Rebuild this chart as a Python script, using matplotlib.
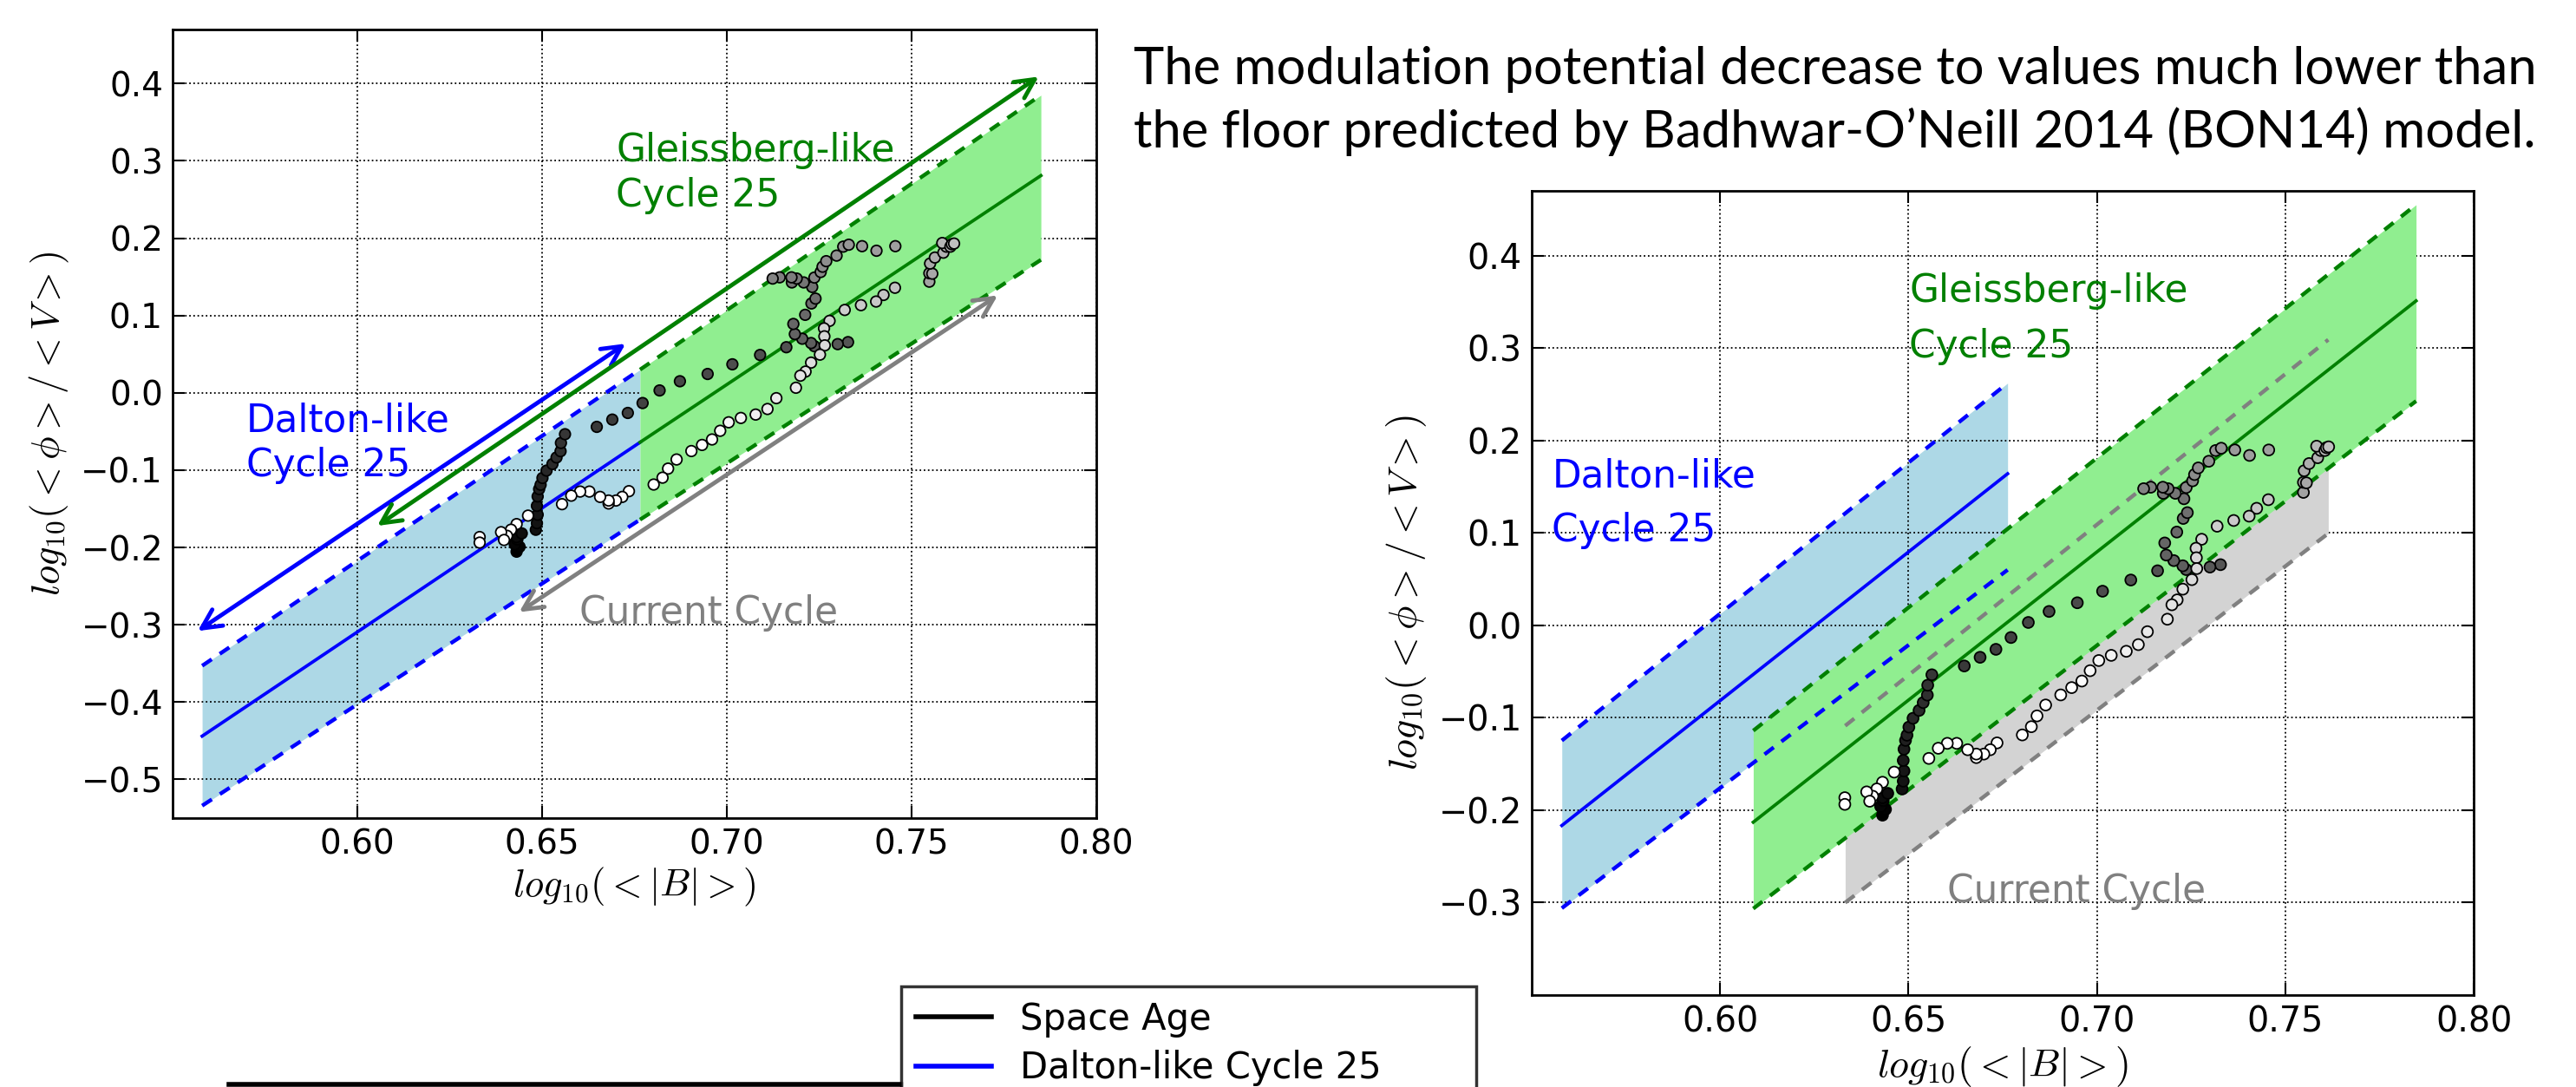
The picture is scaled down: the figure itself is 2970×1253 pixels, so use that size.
import numpy as np
import matplotlib
matplotlib.use("Agg")
import matplotlib.pyplot as plt
from matplotlib.ticker import FuncFormatter
from matplotlib.lines import Line2D

plt.rcParams['mathtext.fontset'] = 'cm'
plt.rcParams['font.family'] = ['DejaVu Sans']

# ---------------- data ----------------
log_B = [0.6431, 0.6439, 0.6426, 0.6433, 0.6431, 0.6445, 0.6483, 0.6486, 0.6488, 0.6486,
         0.6488, 0.6492, 0.6496, 0.6501, 0.6512, 0.6528, 0.6539, 0.6550, 0.6551, 0.6562,
         0.6648, 0.6690, 0.6732, 0.6772, 0.6818, 0.6873, 0.6948, 0.7015, 0.7090, 0.7161,
         0.7328, 0.7300, 0.7237, 0.7228, 0.7204, 0.7184, 0.7180, 0.7212, 0.7229, 0.7240,
         0.7231, 0.7208, 0.7176, 0.7189, 0.7175, 0.7143, 0.7124, 0.7237, 0.7254, 0.7259,
         0.7269, 0.7297, 0.7315, 0.7330, 0.7366, 0.7405, 0.7456, 0.7548, 0.7548, 0.7556,
         0.7550, 0.7563, 0.7586, 0.7594, 0.7583, 0.7605, 0.7609, 0.7615, 0.7455, 0.7424,
         0.7404, 0.7363, 0.7319, 0.7278, 0.7263, 0.7264, 0.7265, 0.7252, 0.7228, 0.7213,
         0.7199, 0.7187, 0.7134, 0.7110, 0.7078, 0.7038, 0.7005, 0.6982, 0.6960, 0.6933,
         0.6904, 0.6864, 0.6841, 0.6826, 0.6802, 0.6735, 0.6717, 0.6700, 0.6680, 0.6680,
         0.6657, 0.6628, 0.6603, 0.6579, 0.6554, 0.6462, 0.6431, 0.6416, 0.6405, 0.6389,
         0.6397, 0.6331, 0.6331]
log_phi_V = [-0.2054, -0.1991, -0.1959, -0.1896, -0.1865, -0.1818, -0.1771, -0.1686, -0.1576, -0.1462,
             -0.1340, -0.1245, -0.1189, -0.1101, -0.1006, -0.0921, -0.0836, -0.0755, -0.0648, -0.0535,
             -0.0440, -0.0346, -0.0260, -0.0132, 0.0031, 0.0150, 0.0244, 0.0369, 0.0490, 0.0590,
             0.0656, 0.0630, 0.0603, 0.0644, 0.0700, 0.0760, 0.0891, 0.1009, 0.1156, 0.1219,
             0.1369, 0.1428, 0.1428, 0.1478, 0.1494, 0.1494, 0.1478, 0.1491, 0.1563, 0.1631,
             0.1703, 0.1775, 0.1891, 0.1916, 0.1897, 0.1838, 0.1897, 0.1438, 0.1547, 0.1541,
             0.1672, 0.1750, 0.1813, 0.1891, 0.1938, 0.1891, 0.1922, 0.1931, 0.1359, 0.1266,
             0.1181, 0.1134, 0.1072, 0.0931, 0.0834, 0.0731, 0.0614, 0.0494, 0.0391, 0.0275,
             0.0222, 0.0066, -0.0069, -0.0209, -0.0281, -0.0325, -0.0381, -0.0491, -0.0603, -0.0674,
             -0.0753, -0.0862, -0.0980, -0.1097, -0.1186, -0.1272, -0.1346, -0.1393, -0.1431, -0.1393,
             -0.1346, -0.1277, -0.1277, -0.1330, -0.1440, -0.1588, -0.1698, -0.1770, -0.1849, -0.1802,
             -0.1903, -0.1865, -0.1937]

# left panel bands (x ends, centre, upper, lower)
L_dalton_x = [0.558, 0.6765]
L_dalton_mid = [-0.444, -0.064]
L_dalton_hi = [-0.353, 0.030]
L_dalton_lo = [-0.534, -0.164]
L_gleis_x = [0.6765, 0.785]
L_gleis_mid = [-0.064, 0.281]
L_gleis_hi = [0.030, 0.385]
L_gleis_lo = [-0.164, 0.172]

# left panel arrows: (x_start, y_start, x_end, y_end)
arrow_dalton = [0.5568, -0.308, 0.6726, 0.0636]
arrow_gleis = [0.6054, -0.172, 0.7844, 0.409]
arrow_current = [0.6438, -0.2836, 0.7733, 0.126]

# right panel bands
R_dalton_x = [0.558, 0.6763]
R_dalton_mid = [-0.2166, 0.164]
R_dalton_hi = [-0.1247, 0.262]
R_dalton_lo = [-0.306, 0.060]
R_gleis_x = [0.6088, 0.7847]
R_gleis_mid = [-0.213, 0.351]
R_gleis_hi = [-0.114, 0.455]
R_gleis_lo = [-0.3065, 0.2426]
R_cur_x = [0.6332, 0.7614]
R_cur_hi = [-0.1087, 0.309]
R_cur_lo = [-0.300, 0.0994]

x_ticks = [0.60, 0.65, 0.70, 0.75, 0.80]
L_y_ticks = [-0.5, -0.4, -0.3, -0.2, -0.1, 0.0, 0.1, 0.2, 0.3, 0.4]
R_y_ticks = [-0.3, -0.2, -0.1, 0.0, 0.1, 0.2, 0.3, 0.4]

title_lines = ["The modulation potential decrease to values much lower than",
               "the floor predicted by Badhwar-O\u2019Neill 2014 (BON14) model."]
legend_labels = ["Space Age", "Dalton-like Cycle 25"]

# ---------------- styling ----------------
BLUE = (0, 0, 1)
GREEN = (0, 0.5, 0)
GRAY = (0.5, 0.5, 0.5)
DASH = (0, (3, 2.5))

fig = plt.figure(figsize=(29.7, 12.53), dpi=100)
ax1 = fig.add_axes([0.067, 0.2474, 0.3586, 0.7255])
ax2 = fig.add_axes([0.5946, 0.0846, 0.3657, 0.7398])

idx = np.arange(len(log_B))
shade_norm = plt.Normalize(0, 0.8 * (len(log_B) - 1))

fmt_x = FuncFormatter(lambda v, p: f'{v:.2f}'.replace('-', '\u2212'))
fmt_y = FuncFormatter(lambda v, p: f'{v:.1f}'.replace('-', '\u2212'))


def style_axes(ax, yticks, ylim, tsize):
    ax.set_xlim(0.55, 0.80)
    ax.set_ylim(*ylim)
    ax.set_xticks(x_ticks)
    ax.set_yticks(yticks)
    ax.xaxis.set_major_formatter(fmt_x)
    ax.yaxis.set_major_formatter(fmt_y)
    ax.grid(True, linestyle=':', color='k', linewidth=1.3)
    ax.tick_params(direction='in', top=True, right=True, labelsize=tsize, length=10, width=1.5, pad=8)
    for s in ax.spines.values():
        s.set_linewidth(2)


def band(ax, x, mid, hi, lo, fc, lc, zf):
    ax.fill_between(x, lo, hi, color=fc, linewidth=0, zorder=zf)
    if mid is not None:
        ax.plot(x, mid, color=lc, lw=2.7, zorder=4)
    ax.plot(x, hi, color=lc, lw=3.2, ls=DASH, zorder=4)
    ax.plot(x, lo, color=lc, lw=3.2, ls=DASH, zorder=4)


def label(ax, x, y, s, col):
    ax.text(x, y, s, color=col, fontsize=31.5, zorder=7)


# ---- left panel ----
band(ax1, L_dalton_x, L_dalton_mid, L_dalton_hi, L_dalton_lo, 'lightblue', BLUE, 1)
band(ax1, L_gleis_x, L_gleis_mid, L_gleis_hi, L_gleis_lo, 'lightgreen', GREEN, 2)
for arr, col in [(arrow_dalton, BLUE), (arrow_gleis, GREEN), (arrow_current, GRAY)]:
    ax1.annotate('', xy=(arr[2], arr[3]), xytext=(arr[0], arr[1]),
                 arrowprops=dict(arrowstyle='<->', color=col, lw=3.5, mutation_scale=40,
                                 shrinkA=0, shrinkB=0), zorder=5)
ax1.scatter(log_B, log_phi_V, c=idx, cmap='gray', norm=shade_norm, s=80,
            edgecolors='k', linewidths=1.3, zorder=6)
label(ax1, 0.670, 0.299, 'Gleissberg-like', GREEN)
label(ax1, 0.670, 0.241, 'Cycle 25', GREEN)
label(ax1, 0.570, -0.050, 'Dalton-like', BLUE)
label(ax1, 0.570, -0.108, 'Cycle 25', BLUE)
label(ax1, 0.660, -0.299, 'Current Cycle', GRAY)
style_axes(ax1, L_y_ticks, (-0.55, 0.47), 28)
ax1.set_xlabel(r'$log_{10}(<|B|>)$', fontsize=32, labelpad=4)
ax1.set_ylabel(r'$log_{10}(<\phi>/<V>)$', fontsize=32, labelpad=8)

# ---- right panel ----
band(ax2, R_dalton_x, R_dalton_mid, R_dalton_hi, R_dalton_lo, 'lightblue', BLUE, 1)
band(ax2, R_cur_x, None, R_cur_hi, R_cur_lo, 'lightgray', GRAY, 2)
band(ax2, R_gleis_x, R_gleis_mid, R_gleis_hi, R_gleis_lo, 'lightgreen', GREEN, 3)
ax2.scatter(log_B, log_phi_V, c=idx, cmap='gray', norm=shade_norm, s=85,
            edgecolors='k', linewidths=1.3, zorder=6)
label(ax2, 0.6502, 0.350, 'Gleissberg-like', GREEN)
label(ax2, 0.6502, 0.2895, 'Cycle 25', GREEN)
label(ax2, 0.5554, 0.1495, 'Dalton-like', BLUE)
label(ax2, 0.5554, 0.0904, 'Cycle 25', BLUE)
label(ax2, 0.6603, -0.300, 'Current Cycle', GRAY)
style_axes(ax2, R_y_ticks, (-0.40, 0.47), 28.5)
ax2.set_xlabel(r'$log_{10}(<|B|>)$', fontsize=33, labelpad=4)
ax2.set_ylabel(r'$log_{10}(<\phi>/<V>)$', fontsize=33, labelpad=8)

# ---- title text ----
fig.text(0.440, 1 - 97 / 1253, title_lines[0], fontsize=43, family='Lato', va='baseline')
fig.text(0.440, 1 - 170 / 1253, title_lines[1], fontsize=43, family='Lato', va='baseline')

# ---- legend (cut off at the bottom, as in the original) ----
handles = [Line2D([], [], color='k', lw=4), Line2D([], [], color=BLUE, lw=4)]
leg_top = 1 - 1137 / 1253
leg = fig.legend(handles, legend_labels, loc='upper left',
                 bbox_to_anchor=(1039 / 2970, 0.0, (1702 - 1039) / 2970, leg_top),
                 mode='expand', fontsize=30,
                 frameon=True, fancybox=False, handlelength=2.1, handletextpad=0.8,
                 labelspacing=0.35, borderpad=0.4, borderaxespad=0)
leg.get_frame().set_edgecolor('k')
leg.get_frame().set_linewidth(2.5)

fig.add_artist(Line2D([264 / 2970, 1039 / 2970], [1 - 1250 / 1253] * 2,
                      transform=fig.transFigure, color='k', lw=4))

fig.savefig('out.png', dpi=100)
